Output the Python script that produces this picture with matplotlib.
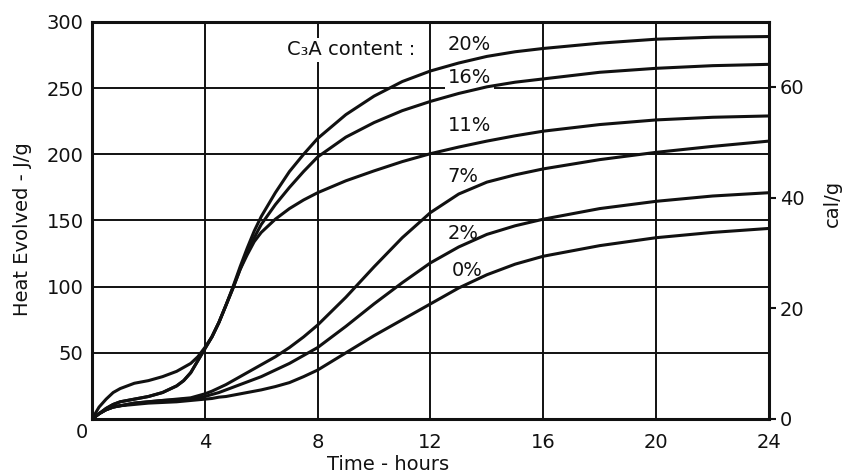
import matplotlib
matplotlib.use("Agg")
import matplotlib.pyplot as plt

# hours after mixing, shared by every curve
hours = [0, 0.25, 0.5, 0.75, 1, 1.5, 2, 2.5, 3, 3.25, 3.5, 3.75, 4, 4.25, 4.5,
         4.75, 5, 5.25, 5.5, 5.75, 6, 6.5, 7, 7.5, 8, 9, 10, 11, 12, 13, 14,
         15, 16, 18, 20, 22, 24]

# heat evolved, J/g, one list per C3A content
c3a_20 = [0, 9, 15, 20, 23, 27, 29, 32, 36, 39, 42, 47, 54, 62, 73, 86, 100,
          115, 129, 142, 153, 171, 187, 200, 212, 230, 244, 255, 263, 269,
          274, 277.5, 280, 284, 287, 288.5, 289]
c3a_16 = [0, 4, 8, 11, 13, 15, 17, 20, 25, 29, 35, 44, 53, 62, 73, 86, 99,
          113, 126, 137, 147, 162, 175, 187, 198, 213, 224, 233, 240, 246,
          251, 254.5, 257, 262, 265, 267, 268]
c3a_11 = [0, 4, 8, 11, 13, 15, 17, 20, 25, 29, 35, 44, 53, 62, 73, 86, 99,
          113, 124, 134, 141, 151, 159, 165.5, 171, 180, 187.5, 194.5, 200.5,
          205.5, 210, 214, 217.5, 222.5, 226, 228, 229]
c3a_7 = [0, 4, 7, 9, 10, 12, 13, 14, 15, 15.5, 16, 17.5, 19, 21, 23.5, 26, 29,
         32, 35, 38, 41, 47, 54, 62, 71, 92, 115, 137, 156, 170, 179, 184.5,
         189, 196, 201.5, 206, 210]
c3a_2 = [0, 4, 7, 9, 10, 12, 13, 14, 14.5, 15, 15.5, 16, 17, 18.5, 20, 22, 24,
         26, 28, 30, 32, 37, 42, 48, 54, 70, 87, 103, 118, 130, 139.5, 146,
         151, 159, 164.5, 168.5, 171]
c3a_0 = [0, 4, 7, 9, 10, 11, 12, 12.5, 13, 13.5, 14, 14.5, 15, 15.5, 16.5, 17,
         18, 19, 20, 21, 22, 24.5, 27.5, 32, 37, 50, 63, 75, 87, 99, 109, 117,
         123, 131, 137, 141, 144]

series = [c3a_20, c3a_16, c3a_11, c3a_7, c3a_2, c3a_0]
curve_labels = ["20%", "16%", "11%", "7%", "2%", "0%"]
label_pos = [(12.6, 283), (12.6, 258), (12.6, 222), (12.6, 183), (12.6, 140), (12.75, 112)]

x_ticks = [0, 4, 8, 12, 16, 20, 24]
y_ticks = [0, 50, 100, 150, 200, 250, 300]
cal_ticks = [0, 20, 40, 60]
J_PER_CAL = 4.184

INK = "#111111"
FS = 14
plt.rcParams["font.family"] = ["DejaVu Sans"]

fig = plt.figure(figsize=(8.48, 4.75), dpi=100)
ax = fig.add_axes([0.1085, 0.1179, 0.7983, 0.8358])

for vals in series:
    ax.plot(hours, vals, color=INK, lw=2.2, zorder=3,
            solid_joinstyle="round", solid_capstyle="round")

ax.set_xlim(0, 24)
ax.set_ylim(0, 300)
ax.set_xticks(x_ticks)
ax.set_xticklabels([""] + [str(t) for t in x_ticks[1:]])
ax.set_yticks(y_ticks)
ax.set_yticklabels([""] + [str(v) for v in y_ticks[1:]])
ax.tick_params(axis="both", length=0, labelsize=FS, colors=INK)
ax.tick_params(axis="x", pad=10)
ax.tick_params(axis="y", pad=6)
ax.grid(True, color=INK, lw=1.4)
ax.set_axisbelow(True)
for sp in ax.spines.values():
    sp.set_linewidth(2.2)
    sp.set_color(INK)

# cal/g scale on the right
ax2 = ax.twinx()
ax2.set_ylim(0, 300 / J_PER_CAL)
ax2.set_yticks(cal_ticks)
ax2.tick_params(axis="y", direction="out", length=5, width=1.5,
                labelsize=FS, colors=INK, pad=3)
for sp in ax2.spines.values():
    sp.set_visible(False)

# curve labels, white box hides the grid behind them
box = dict(facecolor="white", edgecolor="none", pad=2)
ax.text(11.45, 279, "C\u2083A content :", fontsize=FS, color=INK,
        ha="right", va="center", bbox=box, zorder=2.5)
for lab, (tx, ty) in zip(curve_labels, label_pos):
    ax.text(tx, ty, lab, fontsize=FS, color=INK,
            ha="left", va="center", bbox=box, zorder=2.5)

# shared corner zero and axis titles
fig.text(82 / 848, 1 - 433 / 475, "0", fontsize=FS, color=INK,
         ha="center", va="center")
fig.text(23 / 848, 1 - 229 / 475, "Heat Evolved - J/g", fontsize=FS,
         color=INK, rotation=90, ha="center", va="center")
fig.text(388 / 848, 1 - 465 / 475, "Time - hours", fontsize=FS,
         color=INK, ha="center", va="center")
fig.text(832 / 848, 1 - 203 / 475, "cal/g", fontsize=FS,
         color=INK, rotation=90, ha="center", va="center")

fig.savefig("out.png", dpi=100, facecolor="white")
